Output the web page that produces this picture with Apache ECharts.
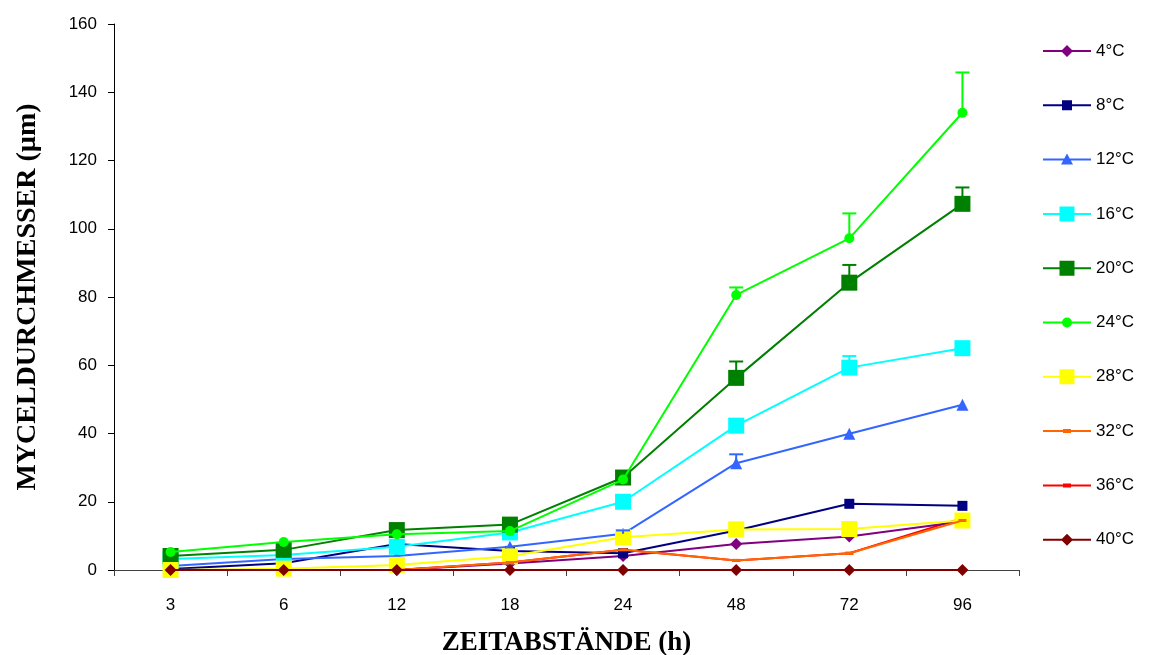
<!DOCTYPE html>
<html>
<head>
<meta charset="utf-8">
<script src="https://cdn.jsdelivr.net/npm/echarts@6/dist/echarts.min.js"></script>
<style>
html,body{margin:0;padding:0;background:#fff;}
#chart{width:1154px;height:655px;}
</style>
</head>
<body>
<div id="chart"></div>
<script>
// Zeitabstände (h)
var categories = ['3', '6', '12', '18', '24', '48', '72', '96'];
var yTicks = [0, 20, 40, 60, 80, 100, 120, 140, 160];

// Myceldurchmesser (µm) je Temperatur
var t4  = [0, 0, 0, 1.9, 4.1, 7.6, 9.8, 14.2];
var t8  = [0.3, 2.0, 7.6, 5.6, 4.9, 11.6, 19.4, 18.8];
var t12 = [1.2, 3.2, 4.1, 6.8, 10.6, 31.3, 39.9, 48.4];
var t16 = [3.2, 4.4, 6.8, 11.0, 20.0, 42.3, 59.3, 65.0];
var t20 = [4.1, 5.9, 11.7, 13.3, 27.1, 56.3, 84.2, 107.3];
var t24 = [5.3, 8.2, 10.5, 11.4, 26.5, 80.6, 97.2, 134.0];
var t28 = [0, 0.4, 1.5, 4.0, 9.6, 11.9, 12.0, 14.5];
var t32 = [0, 0, 0, 2.2, 5.9, 2.8, 4.9, 14.5];
var t36 = [0, 0, 0, 2.2, 5.9, 2.8, 4.9, 15.2];
var t40 = [0, 0, 0, 0, 0, 0, 0, 0];

// Fehlerbalken (nur nach oben)
var e12 = [null, null, null, null, 1.0, 2.6, null, null];
var e16 = [null, null, null, null, null, null, 3.4, null];
var e20 = [null, null, null, null, null, 4.8, 5.2, 4.8];
var e24 = [null, null, null, null, null, 2.2, 7.3, 11.8];

var names = ['4°C', '8°C', '12°C', '16°C', '20°C', '24°C', '28°C', '32°C', '36°C', '40°C'];
var values = [t4, t8, t12, t16, t20, t24, t28, t32, t36, t40];
var colors = ['#800080', '#000080', '#3366FF', '#00FFFF', '#008000', '#00FF00', '#FFFF00', '#FF6600', '#FF0000', '#800000'];
var symbols = ['diamond', 'rect', 'triangle', 'rect', 'rect', 'circle', 'rect', 'rect', 'rect', 'diamond'];
var sizes = [12, 10, 12, 16, 16, 10, 16, [8, 3], [8, 3], 12];

// Legendensymbole: Linie + Marker, 48x16
var lineBox = 'M0 0 L0.01 0 Z M48 16 L47.99 16 Z M0 7 H48 V9 H0 Z ';
var markPaths = {
    diamond: 'M24 2 L30 8 L24 14 L18 8 Z',
    rectS: 'M19 3 H29 V13 H19 Z',
    triangle: 'M24 2 L30 13 L18 13 Z',
    rectL: 'M16.5 0.5 H31.5 V15.5 H16.5 Z',
    circle: 'M19 8 A5 5 0 1 1 29 8 A5 5 0 1 1 19 8 Z',
    dash: 'M20 6 H28 V10 H20 Z'
};
var legendMarks = ['diamond', 'rectS', 'triangle', 'rectL', 'rectL', 'circle', 'rectL', 'dash', 'dash', 'diamond'];

function lineSeries(i) {
    return {
        name: names[i],
        type: 'line',
        data: values[i],
        symbol: symbols[i],
        symbolSize: sizes[i],
        showAllSymbol: true,
        z: i == 8 ? 1 : 2 + i,
        lineStyle: {color: colors[i], width: 2},
        itemStyle: {color: colors[i]},
        emphasis: {disabled: true},
        animation: false
    };
}

function errSeries(vals, errs, color) {
    var data = [];
    for (var i = 0; i < errs.length; i++) {
        if (errs[i] != null) data.push([i, vals[i], vals[i] + errs[i]]);
    }
    return {
        type: 'custom',
        data: data,
        z: 20,
        animation: false,
        silent: true,
        renderItem: function (params, api) {
            var p0 = api.coord([api.value(0), api.value(1)]);
            var p1 = api.coord([api.value(0), api.value(2)]);
            var style = {stroke: color, lineWidth: 2};
            return {
                type: 'group',
                children: [
                    {type: 'line', shape: {x1: p0[0], y1: p0[1], x2: p1[0], y2: p1[1]}, style: style},
                    {type: 'line', shape: {x1: p1[0] - 7, y1: p1[1], x2: p1[0] + 7, y2: p1[1]}, style: style}
                ]
            };
        }
    };
}

var seriesArr = [];
for (var i = 0; i < names.length; i++) seriesArr.push(lineSeries(i));
seriesArr.push(errSeries(t12, e12, colors[2]));
seriesArr.push(errSeries(t16, e16, colors[3]));
seriesArr.push(errSeries(t20, e20, colors[4]));
seriesArr.push(errSeries(t24, e24, colors[5]));

var legendData = [];
for (var i = 0; i < names.length; i++) {
    legendData.push({name: names[i], icon: 'path://' + lineBox + markPaths[legendMarks[i]]});
}

var option = {
    backgroundColor: '#ffffff',
    animation: false,
    grid: {left: 114, right: 135, top: 24, bottom: 85, containLabel: false, outerBoundsMode: 'none'},
    legend: {
        orient: 'vertical',
        left: 1038,
        top: 37.5,
        itemWidth: 48,
        itemHeight: 16,
        itemGap: 37.3,
        data: legendData,
        itemStyle: {borderWidth: 0},
        textStyle: {fontFamily: 'Liberation Sans', fontSize: 17, color: '#000'}
    },
    xAxis: {
        type: 'category',
        data: categories,
        boundaryGap: true,
        name: 'ZEITABSTÄNDE (h)',
        nameLocation: 'middle',
        nameGap: 60,
        nameTextStyle: {fontFamily: 'Liberation Serif', fontWeight: 'bold', fontSize: 27, color: '#000'},
        axisLine: {lineStyle: {color: '#404040', width: 1}},
        axisTick: {show: true, length: 6, alignWithLabel: false, lineStyle: {color: '#404040'}},
        axisLabel: {margin: 27, fontFamily: 'Liberation Sans', fontSize: 17, color: '#000'},
        splitLine: {show: false}
    },
    yAxis: {
        type: 'value',
        min: yTicks[0],
        max: yTicks[yTicks.length - 1],
        interval: 20,
        name: 'MYCELDURCHMESSER (µm)',
        nameLocation: 'middle',
        nameGap: 72,
        nameTextStyle: {fontFamily: 'Liberation Serif', fontWeight: 'bold', fontSize: 28, color: '#000'},
        axisLine: {show: true, lineStyle: {color: '#000', width: 1}},
        axisTick: {show: true, length: 6, lineStyle: {color: '#000'}},
        axisLabel: {margin: 17, fontFamily: 'Liberation Sans', fontSize: 17, color: '#000'},
        splitLine: {show: false}
    },
    series: seriesArr
};

var chart = echarts.init(document.getElementById('chart'));
chart.setOption(option, true);
</script>
</body>
</html>
